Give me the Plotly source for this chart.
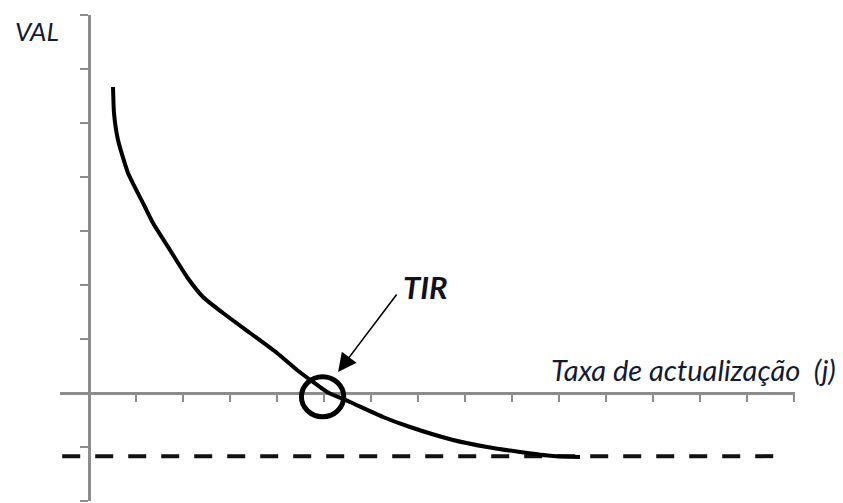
import plotly.graph_objects as go

# ---- data ----
rate_j = [0.511, 0.532, 0.617, 0.830, 1.191, 1.362, 1.723, 2.085, 2.426, 2.851, 3.426, 4.000,
          4.426, 4.766, 5.064, 5.553, 6.255, 6.830, 7.745, 8.468, 9.170, 9.872, 10.447]
val_curve = [5.667, 5.185, 4.685, 4.074, 3.444, 3.148, 2.648, 2.148, 1.778, 1.481, 1.111, 0.741,
             0.426, 0.204, 0.019, -0.167, -0.444, -0.630, -0.870, -1.000, -1.093, -1.167, -1.185]
asym_x = [-0.57, 14.81]
asym_y = [-1.17, -1.17]
tir_x = 4.97
tir_y = -0.07
x_ticks = list(range(0, 16))
y_ticks = list(range(-2, 8))

W, H = 843, 503
AX = "#8c8c8c"

fig = go.Figure()
fig.add_trace(go.Scatter(x=asym_x, y=asym_y, mode="lines",
                         line=dict(color="#111111", width=4, dash="18px,15px"),
                         hoverinfo="skip", showlegend=False))
fig.add_trace(go.Scatter(x=rate_j, y=val_curve, mode="lines",
                         line=dict(color="#000000", width=4, shape="spline", smoothing=0.5),
                         showlegend=False))

# circle around TIR
fig.add_shape(type="circle", xref="x", yref="y",
              x0=tir_x - 0.45, x1=tir_x + 0.45, y0=tir_y - 0.37, y1=tir_y + 0.37,
              line=dict(color="#000000", width=5))

# arrow to TIR
fig.add_annotation(x=5.30, y=0.39, ax=6.57, ay=1.85, xref="x", yref="y", axref="x", ayref="y",
                   showarrow=True, arrowhead=2, arrowsize=2.3, arrowwidth=1.6, arrowcolor="#000000", text="")
fig.add_annotation(x=425 / W, y=1 - 287 / H, xref="paper", yref="paper", text="<b><i>TIR</i></b>",
                   showarrow=False, xanchor="center", yanchor="middle",
                   font=dict(family="Lato, Open Sans, sans-serif", size=31, color="#101020"))
fig.add_annotation(x=37 / W, y=1 - 31 / H, xref="paper", yref="paper", text="<i>VAL</i>",
                   showarrow=False, xanchor="center", yanchor="middle",
                   font=dict(family="Lato, Open Sans, sans-serif", size=26, color="#141a33"))
fig.add_annotation(x=838 / W, y=1 - 369 / H, xref="paper", yref="paper",
                   text="<i>Taxa de actualização  (j)</i>",
                   showarrow=False, xanchor="right", yanchor="middle",
                   font=dict(family="Lato, Open Sans, sans-serif", size=29, color="#141a33"))

# axis geometry: x=0 at px 89, 47 px/unit ; y=0 at py 393, 54 px/unit
x_dom = [60 / W, 795 / W]
x_rng = [(60 - 89) / 47, (795 - 89) / 47]
y_dom = [(H - 501) / H, (H - 15) / H]
y_rng = [(393 - 501) / 54, (393 - 15) / 54]

fig.update_layout(
    width=W, height=H, margin=dict(l=0, r=0, t=0, b=0),
    paper_bgcolor="white", plot_bgcolor="white",
    xaxis=dict(domain=x_dom, range=x_rng, anchor="free", position=(H - 393) / H,
               showline=True, linecolor=AX, linewidth=3, layer="below traces",
               tickmode="array", tickvals=x_ticks, ticks="outside", ticklen=7, tickwidth=2,
               tickcolor=AX, showticklabels=False, showgrid=False, zeroline=False),
    yaxis=dict(domain=y_dom, range=y_rng, anchor="free", position=89 / W,
               showline=True, linecolor=AX, linewidth=3, layer="below traces",
               tickmode="array", tickvals=y_ticks, ticks="outside", ticklen=8, tickwidth=2,
               tickcolor=AX, showticklabels=False, showgrid=False, zeroline=False),
)

fig.write_html("out.html", config={"displayModeBar": False},
               post_script="document.body.style.margin='0px';")
